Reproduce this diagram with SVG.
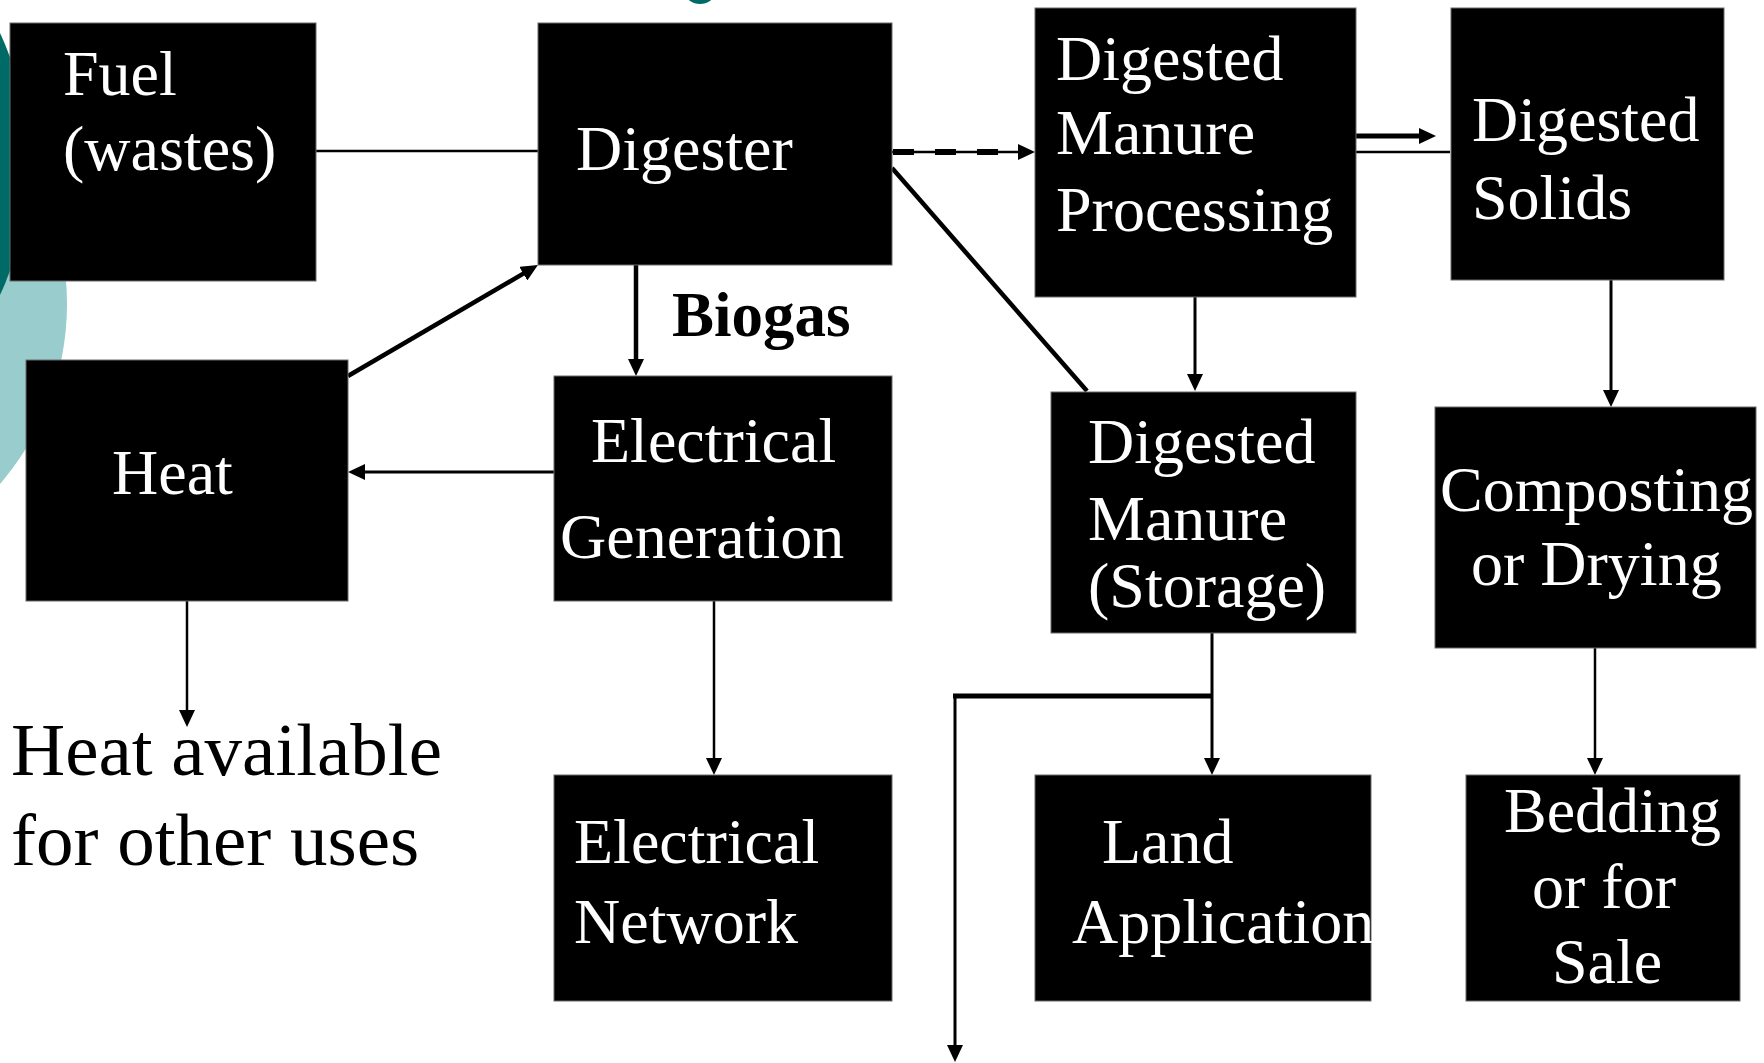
<svg xmlns="http://www.w3.org/2000/svg" width="1764" height="1063" viewBox="0 0 1764 1063">
<style>
.box{fill:#000;stroke:#6a6a6a;stroke-width:1}
.t{font-family:"Liberation Serif","Times New Roman",serif;font-size:64px;fill:#fff}
.lbl{font-family:"Liberation Serif","Times New Roman",serif;fill:#000}
.ln{fill:none;stroke:#000;stroke-width:3}
.thin{fill:none;stroke:#000;stroke-width:2.5}
.thick{fill:none;stroke:#000;stroke-width:4.5}
</style>
<defs>
<marker id="ah" markerUnits="userSpaceOnUse" markerWidth="18" markerHeight="16" refX="2" refY="8" orient="auto" viewBox="0 0 18 16">
<path d="M0,0 L17,8 L0,16 z" fill="#000"/>
</marker>
</defs>
<rect width="1764" height="1063" fill="#fff"/>
<g id="background">
<circle cx="-208" cy="304" r="275" fill="#99cccc"/>
<circle cx="-281" cy="164" r="310" fill="#006b66"/>
<ellipse cx="700" cy="-6" rx="14" ry="10" fill="#006b66"/>
</g>
<g id="connectors">
<line class="thin" x1="316" y1="151" x2="538" y2="151"/>
<line class="thin" x1="892" y1="152" x2="1020" y2="152" marker-end="url(#ah)"/>
<line x1="893" y1="152" x2="1016" y2="152" stroke="#000" stroke-width="6" stroke-dasharray="21 21"/>
<line class="thick" x1="892" y1="168" x2="1087" y2="391"/>
<line x1="1356" y1="136" x2="1421" y2="136" stroke="#000" stroke-width="5" marker-end="url(#ah)"/>
<line class="thin" x1="1356" y1="152" x2="1450" y2="152"/>
<line class="ln" x1="1195" y1="297" x2="1195" y2="376" marker-end="url(#ah)"/>
<line class="thick" x1="636" y1="265" x2="636" y2="361" marker-end="url(#ah)"/>
<line class="thick" x1="348" y1="376" x2="525" y2="272.6" marker-end="url(#ah)"/>
<line class="ln" x1="554" y1="472" x2="363" y2="472" marker-end="url(#ah)"/>
<line class="thin" x1="187" y1="601" x2="187" y2="712" marker-end="url(#ah)"/>
<line class="thin" x1="714" y1="601" x2="714" y2="760" marker-end="url(#ah)"/>
<line class="ln" x1="1212" y1="632" x2="1212" y2="760" marker-end="url(#ah)"/>
<line x1="1213" y1="696" x2="953" y2="696" stroke="#000" stroke-width="5"/>
<line class="ln" x1="955" y1="694" x2="955" y2="1047" marker-end="url(#ah)"/>
<line class="ln" x1="1611" y1="280" x2="1611" y2="392" marker-end="url(#ah)"/>
<line class="thin" x1="1595" y1="648" x2="1595" y2="760" marker-end="url(#ah)"/>
<text class="lbl" x="672" y="336" font-size="63" font-weight="bold">Biogas</text>
<text class="lbl" x="11" y="775" font-size="75">Heat available</text>
<text class="lbl" x="11" y="865" font-size="75">for other uses</text>
</g>
<g id="fuel">
<rect class="box" x="10" y="23" width="306" height="258"/>
<text class="t" x="63" y="95">Fuel</text>
<text class="t" x="63" y="170">(wastes)</text>
</g>
<g id="digester">
<rect class="box" x="538" y="23" width="354" height="242"/>
<text class="t" x="576" y="170">Digester</text>
</g>
<g id="heat">
<rect class="box" x="26" y="360" width="322" height="241"/>
<text class="t" x="112" y="494">Heat</text>
</g>
<g id="electrical-generation">
<rect class="box" x="554" y="376" width="338" height="225"/>
<text class="t" x="591" y="462">Electrical</text>
<text class="t" x="560" y="558">Generation</text>
</g>
<g id="digested-manure-processing">
<rect class="box" x="1035" y="8" width="321" height="289"/>
<text class="t" x="1056" y="80">Digested</text>
<text class="t" x="1056" y="154">Manure</text>
<text class="t" x="1056" y="231">Processing</text>
</g>
<g id="digested-solids">
<rect class="box" x="1451" y="8" width="273" height="272"/>
<text class="t" x="1472" y="141">Digested</text>
<text class="t" x="1472" y="219">Solids</text>
</g>
<g id="digested-manure-storage">
<rect class="box" x="1051" y="392" width="305" height="241"/>
<text class="t" x="1088" y="463">Digested</text>
<text class="t" x="1088" y="540">Manure</text>
<text class="t" x="1088" y="607">(Storage)</text>
</g>
<g id="composting">
<rect class="box" x="1435" y="407" width="321" height="241"/>
<text class="t" x="1440" y="511">Composting</text>
<text class="t" x="1471" y="585">or Drying</text>
</g>
<g id="electrical-network">
<rect class="box" x="554" y="775" width="338" height="226"/>
<text class="t" x="574" y="863">Electrical</text>
<text class="t" x="574" y="943">Network</text>
</g>
<g id="land-application">
<rect class="box" x="1035" y="775" width="336" height="226"/>
<text class="t" x="1102" y="863">Land</text>
<text class="t" x="1072" y="943">Application</text>
</g>
<g id="bedding">
<rect class="box" x="1466" y="775" width="274" height="226"/>
<text class="t" x="1504" y="832">Bedding</text>
<text class="t" x="1532" y="908">or for</text>
<text class="t" x="1552" y="983">Sale</text>
</g>
</svg>
